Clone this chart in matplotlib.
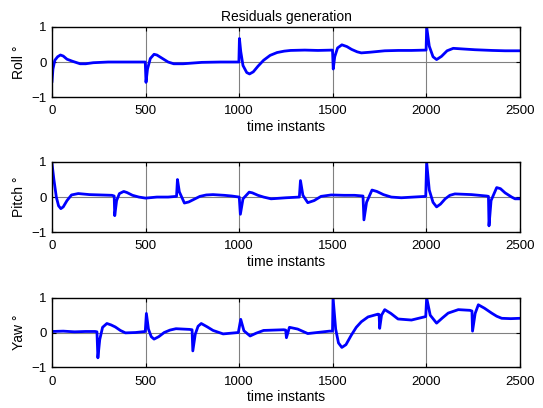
import matplotlib.pyplot as plt

plt.rcParams['font.family'] = ['Liberation Sans', 'DejaVu Sans']

# ======== data (time instant, residual) ========
roll_t = [0, 5, 15, 30, 45, 60, 80, 110, 150, 180, 220, 300, 400, 498,
          502, 510, 525, 545, 560, 590, 620, 650, 700, 800, 900, 998,
          1001, 1008, 1020, 1040, 1055, 1075, 1100, 1130, 1165, 1202, 1240, 1274, 1350, 1420, 1498,
          1502, 1510, 1525, 1548, 1575, 1600, 1630, 1652, 1700, 1777, 1850, 1920, 1998,
          2001, 2015, 2035, 2054, 2080, 2110, 2143, 2200, 2259, 2350, 2420, 2500]
roll_v = [-0.55, -0.2, 0.05, 0.15, 0.2, 0.17, 0.08, 0.02, -0.05, -0.05, -0.02, 0.0, 0.0, 0.0,
          -0.58, -0.2, 0.1, 0.22, 0.2, 0.1, 0.0, -0.05, -0.05, -0.01, 0.0, 0.0,
          0.67, 0.3, -0.1, -0.3, -0.34, -0.28, -0.12, 0.05, 0.19, 0.27, 0.31, 0.33, 0.34, 0.33, 0.34,
          -0.2, 0.15, 0.4, 0.49, 0.44, 0.36, 0.29, 0.26, 0.28, 0.32, 0.33, 0.33, 0.34,
          1.0, 0.45, 0.15, 0.07, 0.16, 0.32, 0.39, 0.37, 0.35, 0.33, 0.32, 0.32]

pitch_t = [0, 10, 23, 35, 47, 60, 80, 104, 140, 200, 260, 320, 332,
           335, 345, 360, 383, 400, 430, 464, 500, 560, 620, 665,
           670, 680, 707, 730, 760, 790, 824, 860, 920, 960, 1000,
           1006, 1020, 1053, 1070, 1100, 1130, 1170, 1250, 1321,
           1327, 1340, 1366, 1400, 1437, 1491, 1560, 1616, 1661,
           1666, 1680, 1709, 1735, 1770, 1812, 1866, 1930, 1996,
           2001, 2015, 2035, 2054, 2075, 2100, 2125, 2152, 2241, 2321, 2331,
           2334, 2345, 2375, 2395, 2420, 2455, 2473, 2500]
pitch_v = [0.95, 0.5, 0.0, -0.25, -0.33, -0.28, -0.1, 0.06, 0.1, 0.07, 0.06, 0.05, 0.03,
           -0.53, -0.1, 0.1, 0.16, 0.13, 0.05, 0.0, -0.03, 0.0, 0.0, 0.02,
           0.5, 0.15, -0.17, -0.14, -0.06, 0.02, 0.06, 0.07, 0.05, 0.03, 0.0,
           -0.49, -0.05, 0.14, 0.12, 0.05, 0.0, -0.05, -0.02, 0.0,
           0.47, 0.05, -0.16, -0.1, 0.02, 0.06, 0.05, 0.05, 0.03,
           -0.65, -0.15, 0.2, 0.16, 0.07, 0.0, -0.02, 0.0, 0.02,
           0.99, 0.2, -0.15, -0.28, -0.2, -0.05, 0.05, 0.09, 0.07, 0.03, 0.02,
           -0.82, -0.1, 0.27, 0.24, 0.12, 0.0, -0.05, -0.05]

yaw_t = [0, 60, 120, 180, 230, 240,
         245, 255, 270, 293, 315, 338, 365, 392, 446, 498,
         504, 515, 530, 545, 570, 599, 630, 662, 734, 748,
         752, 765, 780, 797, 830, 860, 914, 995,
         1008, 1025, 1058, 1090, 1130, 1238, 1248,
         1252, 1268, 1312, 1366, 1482, 1498,
         1501, 1515, 1530, 1548, 1570, 1598, 1625, 1652, 1688, 1741, 1747,
         1750, 1760, 1777, 1810, 1848, 1920, 1996,
         2001, 2020, 2054, 2085, 2116, 2170, 2232, 2243,
         2246, 2260, 2277, 2310, 2348, 2375, 2402, 2450, 2500]
yaw_v = [0.03, 0.04, 0.02, 0.03, 0.03, 0.02,
         -0.73, -0.2, 0.15, 0.26, 0.22, 0.16, 0.06, -0.01, 0.0, 0.03,
         0.55, 0.1, -0.12, -0.19, -0.12, 0.0, 0.07, 0.11, 0.09, 0.08,
         -0.53, -0.05, 0.18, 0.26, 0.16, 0.06, -0.04, 0.0,
         0.38, 0.05, -0.1, -0.02, 0.06, 0.08, 0.07,
         -0.15, 0.15, 0.1, -0.03, 0.04, 0.04,
         1.0, 0.1, -0.3, -0.43, -0.35, -0.08, 0.15, 0.31, 0.45, 0.53, 0.52,
         0.12, 0.5, 0.66, 0.55, 0.39, 0.36, 0.46,
         1.0, 0.5, 0.27, 0.42, 0.56, 0.66, 0.64, 0.62,
         0.04, 0.55, 0.8, 0.7, 0.56, 0.47, 0.41, 0.4, 0.41]

panels = [(roll_t, roll_v, 'Roll °'),
          (pitch_t, pitch_v, 'Pitch °'),
          (yaw_t, yaw_v, 'Yaw °')]

# axes boxes in figure fractions [left, bottom, width, height]
boxes = [[0.0958, 0.762, 0.862, 0.172],
         [0.0958, 0.431, 0.862, 0.172],
         [0.0958, 0.100, 0.862, 0.170]]

fig = plt.figure(figsize=(5.43, 4.08), dpi=100)

for (t, v, lab), box in zip(panels, boxes):
    ax = fig.add_axes(box)
    for xg in [500, 1000, 1500, 2000]:
        ax.axvline(xg, color='#808080', linewidth=0.8, zorder=1)
    ax.axhline(0, color='#808080', linewidth=0.8, zorder=1)
    ax.plot(t, v, color='#0000ff', linewidth=2.0, zorder=2)
    ax.set_xlim(0, 2500)
    ax.set_ylim(-1, 1)
    ax.set_xticks([0, 500, 1000, 1500, 2000, 2500])
    ax.set_yticks([-1, 0, 1])
    ax.tick_params(direction='in', top=True, right=True, length=3, labelsize=9.5, pad=4)
    ax.tick_params(axis='x', pad=6)
    ax.set_ylabel(lab, fontsize=10, labelpad=4)
    ax.set_xlabel('time instants', fontsize=10, labelpad=2)
    for s in ax.spines.values():
        s.set_linewidth(1.0)

fig.axes[0].set_title('Residuals generation', fontsize=10, pad=4)

fig.savefig('out.png', dpi=100)
